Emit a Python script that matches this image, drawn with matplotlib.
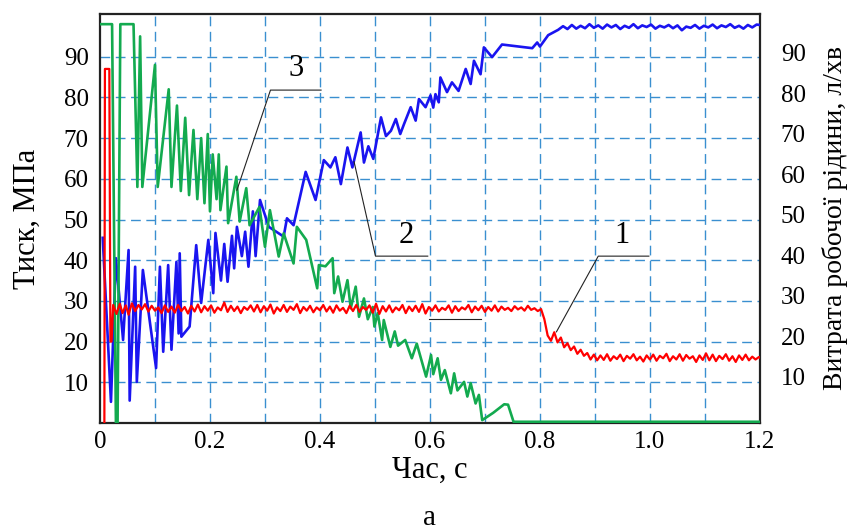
import matplotlib
matplotlib.use("Agg")
import matplotlib.pyplot as plt

# curve 1 (red)
red_t = [0.008, 0.009, 0.017, 0.019, 0.021,
         0.024, 0.030, 0.036, 0.041, 0.047, 0.052, 0.058, 0.064, 0.070, 0.076,
         0.082, 0.088, 0.094, 0.100, 0.106, 0.112, 0.118, 0.124, 0.130, 0.136,
         0.142, 0.148, 0.154, 0.160, 0.166, 0.172, 0.178, 0.184, 0.190, 0.196,
         0.202, 0.208, 0.214, 0.220, 0.226, 0.232, 0.238, 0.244, 0.250, 0.256,
         0.262, 0.268, 0.274, 0.280, 0.286, 0.292, 0.298, 0.304, 0.310, 0.316,
         0.322, 0.328, 0.334, 0.340, 0.346, 0.352, 0.358, 0.364, 0.370, 0.376,
         0.382, 0.388, 0.394, 0.400, 0.406, 0.412, 0.418, 0.424, 0.430, 0.436,
         0.442, 0.448, 0.454, 0.460, 0.466, 0.472, 0.478, 0.484, 0.490, 0.496,
         0.502, 0.508, 0.514, 0.520, 0.526, 0.532, 0.538, 0.544, 0.550, 0.556,
         0.562, 0.568, 0.574, 0.580, 0.586, 0.592, 0.598, 0.604, 0.610, 0.616,
         0.622, 0.628, 0.634, 0.640, 0.646, 0.652, 0.658, 0.664, 0.670, 0.676,
         0.682, 0.688, 0.694, 0.700, 0.706, 0.712, 0.718, 0.724, 0.730, 0.736,
         0.742, 0.748, 0.754, 0.760, 0.766, 0.772, 0.778, 0.784, 0.790, 0.796,
         0.802, 0.808, 0.814, 0.820, 0.826, 0.832, 0.838, 0.844, 0.850, 0.856,
         0.862, 0.868, 0.874, 0.880, 0.886, 0.892, 0.898, 0.904, 0.910, 0.916,
         0.922, 0.928, 0.934, 0.940, 0.946, 0.952, 0.958, 0.964, 0.970, 0.976,
         0.982, 0.988, 0.994, 1.000, 1.006, 1.012, 1.018, 1.024, 1.030, 1.036,
         1.042, 1.048, 1.054, 1.060, 1.066, 1.072, 1.078, 1.084, 1.090, 1.096,
         1.102, 1.108, 1.114, 1.120, 1.126, 1.132, 1.138, 1.144, 1.150, 1.156,
         1.162, 1.168, 1.174, 1.180, 1.186, 1.192, 1.198, 1.202]
red_v = [0.0, 87.0, 87.0, 20.0, 20.0,
         29.0, 26.8, 29.3, 27.0, 28.9, 26.6, 29.4, 27.5, 29.0, 27.9,
         29.2, 27.4, 28.8, 27.6, 28.4, 27.0, 28.9, 27.3, 28.6, 27.1,
         29.0, 27.5, 28.5, 26.9, 28.8, 27.4, 29.1, 27.2, 28.7, 27.6,
         28.9, 27.1, 28.4, 27.7, 29.6, 27.3, 28.8, 27.5, 28.6, 27.0,
         28.5, 27.8, 28.9, 27.4, 29.0, 27.2, 28.7, 27.6, 29.1, 26.9,
         28.4, 27.5, 29.0, 27.3, 28.6, 27.8, 29.2, 27.0, 28.5, 27.6,
         28.8, 27.2, 28.4, 27.7, 29.0, 27.4, 28.6, 27.1, 28.9, 27.6,
         28.3, 27.0, 28.8, 27.5, 29.0, 27.3, 28.5, 27.8, 28.9, 27.1,
         29.3, 26.8, 28.7, 27.4, 28.9, 27.2, 28.4, 27.7, 29.0, 27.0,
         28.6, 27.5, 28.8, 27.3, 29.2, 26.9, 28.5, 27.6, 28.9, 27.4,
         28.3, 27.8, 28.9, 27.1, 28.7, 27.5, 28.4, 27.9, 29.0, 27.2,
         28.6, 27.7, 28.8, 27.3, 28.5, 27.6, 28.9, 27.4, 28.6, 27.8,
         28.3, 27.5, 28.7, 27.9, 28.4, 27.6, 28.8, 27.8, 28.2, 27.5,
         28.0, 25.5, 21.5, 20.2, 22.3, 19.8, 21.0, 18.6, 19.6, 17.9,
         18.8, 17.0, 18.0, 16.5, 17.2, 15.6, 16.8, 15.4, 16.6, 15.5,
         16.9, 15.3, 16.4, 15.7, 16.8, 15.2, 16.5, 15.8, 16.9, 15.4,
         16.3, 15.1, 16.6, 15.6, 16.8, 15.3, 16.5, 15.9, 17.0, 15.2,
         16.4, 15.6, 16.9, 15.3, 16.7, 15.8, 16.4, 15.0, 16.6, 15.5,
         17.1, 15.4, 16.8, 15.2, 16.5, 15.7, 16.9, 15.3, 16.4, 15.0,
         16.6, 15.5, 16.8, 15.4, 16.3, 15.6, 16.2, 15.9]

# curve 2 (blue)
blue_t = [0.005, 0.020, 0.029, 0.042, 0.052, 0.054, 0.064, 0.067, 0.078, 0.102,
          0.109, 0.115, 0.124, 0.130, 0.139, 0.143, 0.145, 0.148, 0.163, 0.175,
          0.184, 0.197, 0.206, 0.210, 0.220, 0.226, 0.232, 0.240, 0.244, 0.249,
          0.258, 0.264, 0.270, 0.278, 0.283, 0.291,
          0.307, 0.334, 0.340, 0.352, 0.374, 0.392, 0.407, 0.419, 0.428, 0.438,
          0.450, 0.459, 0.474, 0.480, 0.488, 0.497, 0.511, 0.520, 0.529, 0.538,
          0.546, 0.553, 0.565, 0.574, 0.580, 0.592, 0.601, 0.606, 0.610, 0.616,
          0.619, 0.631, 0.640, 0.652, 0.665, 0.674, 0.680, 0.692, 0.698, 0.713,
          0.731, 0.786, 0.795, 0.800,
          0.815, 0.833, 0.842, 0.850, 0.858, 0.866, 0.874, 0.882, 0.890, 0.898,
          0.906, 0.914, 0.922, 0.930, 0.938, 0.946, 0.954, 0.962, 0.970, 0.978,
          0.986, 0.994, 1.002, 1.010, 1.018, 1.026, 1.034, 1.042, 1.050, 1.058,
          1.066, 1.074, 1.082, 1.090, 1.098, 1.106, 1.114, 1.122, 1.130, 1.138,
          1.146, 1.154, 1.162, 1.170, 1.178, 1.186, 1.194, 1.200]
blue_v = [45.5, 5.2, 40.5, 20.4, 42.5, 5.5, 38.4, 10.1, 37.6, 13.5,
          38.4, 17.5, 38.8, 18.0, 39.6, 22.0, 41.7, 21.2, 23.7, 43.7,
          29.5, 45.0, 31.9, 46.7, 35.0, 44.0, 34.7, 46.0, 38.0, 48.2,
          41.0, 47.0, 38.4, 52.0, 41.0, 54.8,
          48.2, 45.8, 50.3, 48.6, 61.7, 54.8, 64.6, 62.8, 65.3, 58.7,
          67.7, 62.8, 71.4, 64.0, 68.0, 64.9, 75.1, 70.5, 71.8, 74.7,
          71.0, 73.5, 77.6, 74.3, 79.6, 77.6, 80.5, 77.5, 80.8, 78.8,
          84.9, 81.3, 83.7, 81.6, 87.0, 83.3, 89.0, 85.7, 92.3, 89.9,
          93.0, 92.1, 93.5, 92.5,
          95.3, 96.6, 97.5, 96.8, 97.8, 96.9, 97.6, 97.0, 98.0, 97.1,
          97.7, 96.9, 97.9, 97.2, 97.8, 96.8, 97.6, 97.1, 98.0, 97.0,
          97.7, 97.3, 97.9, 96.9, 97.6, 97.2, 97.8, 97.0, 97.7, 96.5,
          97.4, 97.1, 97.8, 96.9, 97.6, 97.2, 97.9, 97.0, 97.7, 97.3,
          98.0, 97.1, 97.6, 96.9, 97.8, 97.2, 97.9, 97.8]

# curve 3 (green)
green_t = [0.000, 0.022, 0.029, 0.032, 0.037, 0.061, 0.068, 0.073, 0.077, 0.100,
           0.105, 0.125, 0.130, 0.140, 0.147, 0.155, 0.162, 0.170, 0.177, 0.184,
           0.190, 0.196, 0.200, 0.205, 0.212, 0.216, 0.219, 0.230, 0.233, 0.248,
           0.254, 0.266, 0.272, 0.290, 0.300, 0.309, 0.325, 0.334, 0.352, 0.358,
           0.375, 0.395, 0.398, 0.410, 0.423, 0.426, 0.433, 0.441, 0.450, 0.456,
           0.465, 0.471, 0.480, 0.487, 0.496, 0.499, 0.505, 0.513, 0.516, 0.528,
           0.536, 0.542, 0.555, 0.567, 0.576, 0.593, 0.602, 0.606, 0.614, 0.620,
           0.627, 0.638, 0.644, 0.650, 0.662, 0.668, 0.674, 0.683, 0.689, 0.695,
           0.715, 0.735, 0.742, 0.752, 1.200]
green_v = [98.0, 98.0, 0.0, 0.0, 98.0, 98.0, 58.0, 95.0, 58.0, 88.0,
           58.0, 82.0, 58.0, 78.0, 57.0, 75.0, 56.0, 72.0, 55.0, 70.0,
           54.0, 71.0, 52.0, 66.0, 55.0, 66.0, 52.3, 63.0, 49.1, 60.5,
           49.5, 57.7, 48.6, 53.1, 43.3, 52.3, 40.9, 46.6, 39.2, 48.2,
           45.0, 33.1, 38.8, 38.5, 40.5, 31.9, 36.0, 29.8, 35.1, 28.2,
           33.5, 26.1, 30.6, 25.5, 28.5, 23.7, 27.0, 20.4, 25.3, 18.7,
           22.5, 19.0, 20.4, 15.9, 19.5, 11.4, 16.7, 12.0, 15.9, 10.6,
           13.0, 7.3, 12.2, 8.0, 10.1, 6.5, 9.8, 4.8, 6.9, 0.7,
           2.5, 4.6, 4.5, 0.3, 0.3]

x_ticks = [0, 0.2, 0.4, 0.6, 0.8, 1.0, 1.2]
x_ticklabels = ["0", "0.2", "0.4", "0.6", "0.8", "1.0", "1.2"]
y_ticks = [10, 20, 30, 40, 50, 60, 70, 80, 90]

plt.rcParams['font.family'] = ['Liberation Serif', 'DejaVu Serif']

fig = plt.figure(figsize=(8.53, 5.30), dpi=100)
ax = fig.add_axes([0.1172, 0.2019, 0.7737, 0.7717])

grid_col = '#3a8fd0'
for gx in [0.1 * i for i in range(1, 12)]:
    ax.axvline(gx, color=grid_col, lw=1.0, dashes=(7, 4), zorder=1)
for gy in y_ticks:
    ax.axhline(gy, color=grid_col, lw=1.0, dashes=(7, 4), zorder=1)

ax.plot(blue_t, blue_v, color='#1a14f0', lw=1.9, zorder=3)
ax.plot(green_t, green_v, color='#13aa4f', lw=1.9, zorder=4)
ax.plot(red_t, red_v, color='#ff0000', lw=1.6, zorder=5)

# leader lines and curve numbers
lc = '#222222'
ax.plot([0.249, 0.310, 0.402], [57.2, 81.8, 81.8], color=lc, lw=0.8, zorder=6)
ax.text(0.357, 83.5, "3", fontsize=22, ha='center', va='bottom', zorder=7)
ax.plot([0.462, 0.501, 0.596], [64.2, 41.0, 41.0], color=lc, lw=0.8, zorder=6)
ax.text(0.556, 42.5, "2", fontsize=22, ha='center', va='bottom', zorder=7)
ax.plot([0.830, 0.906, 0.998], [22.4, 41.0, 41.0], color=lc, lw=0.8, zorder=6)
ax.text(0.949, 42.5, "1", fontsize=22, ha='center', va='bottom', zorder=7)
ax.plot([0.599, 0.693], [25.5, 25.5], color=lc, lw=0.8, zorder=6)

ax.set_xlim(0, 1.2)
ax.set_ylim(0, 100.5)
ax.set_xticks(x_ticks)
ax.set_xticklabels(x_ticklabels)
ax.set_yticks(y_ticks)
ax.tick_params(axis='both', length=0, labelsize=18)
ax.tick_params(axis='x', pad=6)
ax.tick_params(axis='y', pad=8)
ax.set_xlabel("Час, с", fontsize=22, labelpad=2)
ax.set_ylabel("Тиск, МПа", fontsize=22, labelpad=16)
for s in ax.spines.values():
    s.set_linewidth(1.6)
    s.set_color('#222222')

ax2 = ax.twinx()
ax2.set_ylim(-1.36, 99.6)
ax2.set_yticks(y_ticks)
ax2.tick_params(axis='y', length=0, labelsize=18, pad=15)
ax2.set_ylabel("Витрата робочої рідини, л/хв", fontsize=20, labelpad=12)
for s in ax2.spines.values():
    s.set_visible(False)

fig.text(0.504, 0.023, "a", fontsize=21, ha='center', va='center')

fig.savefig("out.png", dpi=100)
